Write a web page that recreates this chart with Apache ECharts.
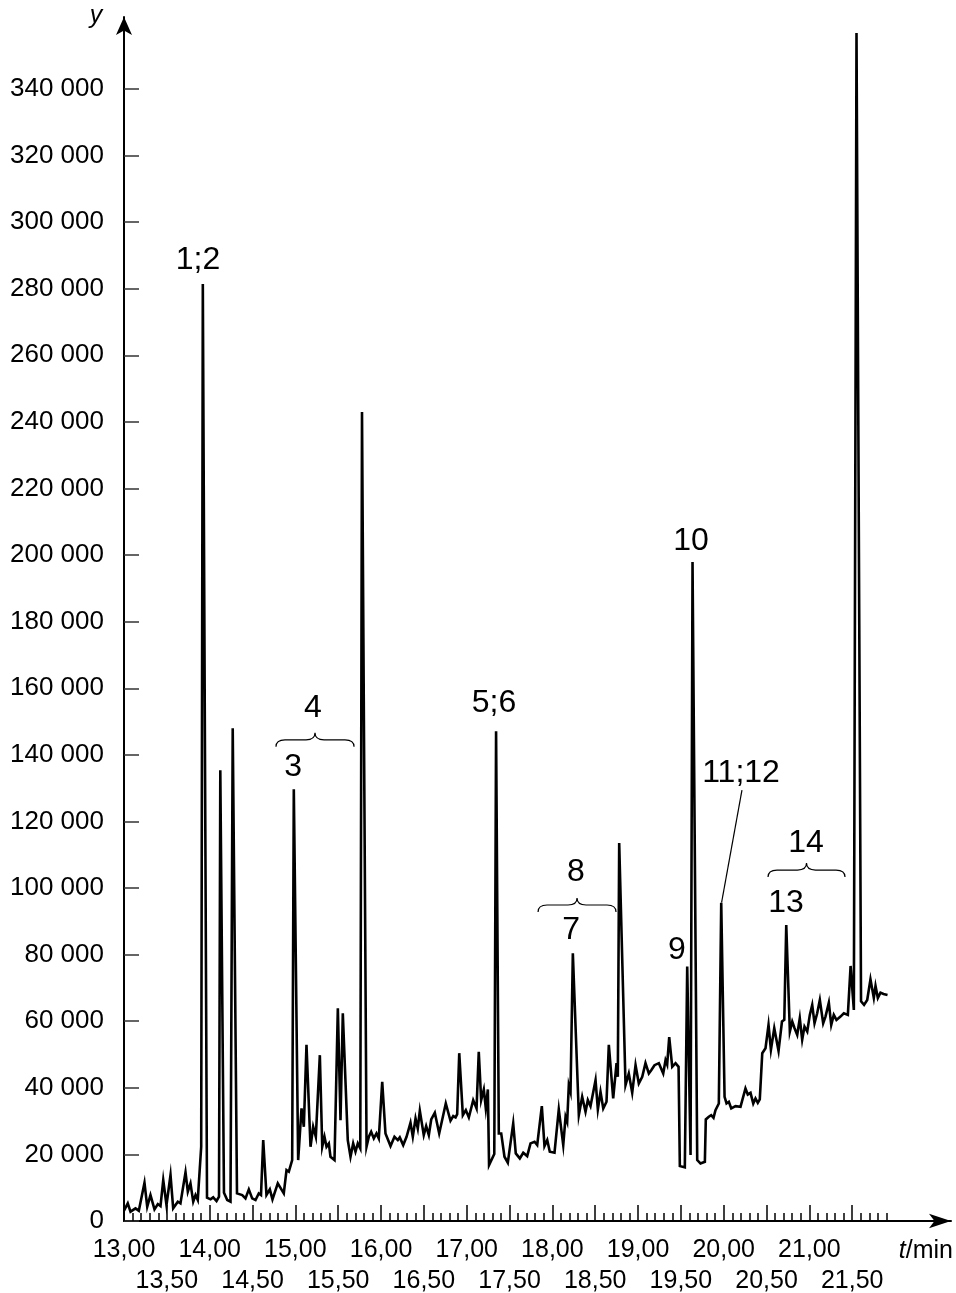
<!DOCTYPE html>
<html><head><meta charset="utf-8">
<script src="https://cdn.jsdelivr.net/npm/echarts@6/dist/echarts.min.js"></script>
<style>html,body{margin:0;padding:0;background:#fff}#c{width:956px;height:1293px}</style>
</head><body><div id="c"></div>
<script>
// retention time (min)
const time = [
13.000,13.044,13.076,13.134,13.173,13.239,13.271,13.309,13.356,13.395,
13.426,13.458,13.496,13.543,13.574,13.628,13.659,13.718,13.745,13.776,
13.808,13.835,13.861,13.901,13.920,13.969,14.010,14.041,14.080,14.109,
14.124,14.167,14.205,14.243,14.269,14.319,14.380,14.418,14.457,14.496,
14.535,14.573,14.599,14.625,14.663,14.702,14.733,14.795,14.865,14.897,
14.924,14.963,14.982,15.033,15.072,15.099,15.130,15.177,15.208,15.239,
15.286,15.314,15.340,15.364,15.391,15.410,15.457,15.496,15.527,15.554,
15.612,15.644,15.675,15.702,15.729,15.758,15.778,15.831,15.858,15.885,
15.916,15.947,15.974,16.014,16.052,16.111,16.157,16.196,16.219,16.259,
16.298,16.313,16.344,16.371,16.403,16.429,16.453,16.499,16.527,16.558,
16.586,16.609,16.628,16.679,16.756,16.811,16.843,16.870,16.889,16.913,
16.955,16.990,17.025,17.076,17.115,17.141,17.169,17.200,17.223,17.247,
17.261,17.322,17.343,17.375,17.403,17.441,17.480,17.543,17.573,17.620,
17.660,17.706,17.745,17.792,17.823,17.877,17.908,17.940,17.970,18.025,
18.075,18.127,18.154,18.173,18.192,18.212,18.239,18.309,18.348,18.387,
18.414,18.445,18.504,18.531,18.562,18.594,18.632,18.659,18.710,18.749,
18.764,18.780,18.854,18.892,18.932,18.971,19.009,19.049,19.087,19.126,
19.154,19.192,19.243,19.294,19.321,19.340,19.364,19.399,19.438,19.473,
19.488,19.546,19.574,19.613,19.636,19.691,19.729,19.780,19.791,19.826,
19.854,19.881,19.904,19.943,19.971,20.010,20.033,20.060,20.088,20.138,
20.196,20.254,20.281,20.313,20.345,20.371,20.398,20.421,20.450,20.488,
20.505,20.523,20.551,20.590,20.640,20.680,20.707,20.730,20.772,20.800,
20.827,20.858,20.888,20.916,20.943,20.975,21.005,21.033,21.060,21.091,
21.122,21.161,21.188,21.227,21.255,21.285,21.316,21.363,21.402,21.449,
21.481,21.519,21.550,21.603,21.638,21.675,21.713,21.752,21.772,21.799,
21.830,21.865,21.912
];
// detector signal (y)
const signal = [
3100,5300,2800,3800,3100,11500,4300,7800,3500,5100,
4500,12300,4800,13800,3800,5800,5300,14600,8800,11300,
5800,7800,6300,22300,281400,7000,6500,7100,6000,7300,
135400,8500,6300,5800,148000,8300,7800,6800,9500,6800,
6300,8300,7800,24300,7800,9500,6500,11300,8300,15300,
14800,18300,129700,18300,33800,28300,52900,22300,28300,25300,
49800,22300,25300,22300,23300,19300,18300,63900,30300,62400,
24300,19300,23300,20800,23300,21800,243000,22300,25300,26800,
24800,26300,24800,41800,26300,22500,25300,24300,25100,22800,
25300,24800,29500,25300,30800,27800,33100,25800,28500,25800,
30500,30000,32500,26300,35300,30100,31500,31100,32100,50400,
31800,33300,31100,36300,33800,50800,36300,39500,33800,39500,
16800,20100,147100,26300,26300,19300,17500,29300,20300,18800,
20500,19500,23300,23800,22800,34500,22500,24300,20800,20500,
33500,22800,31300,29800,40800,38800,80400,31800,37300,32800,
36300,34500,42300,33500,38800,33800,35800,52900,36800,47400,
43300,113500,40800,44300,38500,46800,41300,43300,47400,44300,
45300,46800,47400,44300,48300,47000,55200,46300,47400,46300,
16500,16100,76400,19800,197900,18300,17300,17800,30500,31300,
31800,31000,33300,35300,95600,37300,35300,35800,33800,34500,
34300,39800,38000,38500,35300,36800,35500,36500,50400,51900,
51400,58900,51400,57900,51100,59900,60400,88900,56900,59900,
57900,55900,60900,54400,58400,56900,61900,64900,59400,62400,
66400,59400,61400,65600,58900,61900,60400,61400,62400,61900,
76600,63400,356800,66000,64900,66400,72600,67000,70600,67000,
68600,68200,67900
];
if (time.length !== signal.length) throw new Error('length mismatch ' + time.length + ' ' + signal.length);

const xMajorTicks = [13,13.5,14,14.5,15,15.5,16,16.5,17,17.5,18,18.5,19,19.5,20,20.5,21,21.5];
const xLabelsRow1 = [13,14,15,16,17,18,19,20,21];
const xLabelsRow2 = [13.5,14.5,15.5,16.5,17.5,18.5,19.5,20.5,21.5];
const yTicks = [0,20000,40000,60000,80000,100000,120000,140000,160000,180000,200000,220000,240000,260000,280000,300000,320000,340000];

// peak labels: [t, y, text]
const peakLabels = [
  [13.864, 288600, '1;2'],
  [14.973, 136300, '3'],
  [15.206, 154100, '4'],
  [17.319, 155600, '5;6'],
  [18.218, 87400, '7'],
  [18.276, 104800, '8'],
  [19.455, 81400, '9'],
  [19.618, 204200, '10'],
  [20.202, 134500, '11;12'],
  [20.727, 95500, '13'],
  [20.961, 113500, '14']
];
// braces: [tStart, tEnd, y]
const braces = [
  [14.774, 15.685, 144500],
  [17.833, 18.743, 94900],
  [20.517, 21.416, 105400]
];
// leader line for 11;12: [t1, y1, t2, y2]
const leaders = [[20.213, 129400, 19.975, 95600]];

const minorTicks = [];
for (let k = 131; k <= 219; k++) { if (k % 5 !== 0) minorTicks.push(k / 10); }

const FONT = 'Liberation Sans, Arial, sans-serif';
const fmtX = v => v.toFixed(2).replace('.', ',');
const fmtY = v => String(v).replace(/\B(?=(\d{3})+(?!\d))/g, ' ');

const chart = echarts.init(document.getElementById('c'), null, {renderer: 'canvas'});
const commonX = {type: 'value', min: 13, max: 22.653, splitLine: {show: false}, gridIndex: 0, position: 'bottom', offset: 0};
chart.setOption({
  animation: false,
  backgroundColor: '#fff',
  grid: {left: 124, right: 5, top: 17, bottom: 72, containLabel: false, outerBoundsMode: 'none'},
  xAxis: [
    Object.assign({}, commonX, {
      axisLine: {show: true, symbol: ['none', 'arrow'], symbolSize: [11, 22], lineStyle: {color: '#000', width: 2}},
      axisTick: {show: true, inside: true, length: 16, customValues: xMajorTicks, lineStyle: {color: '#000', width: 1.5}},
      axisLabel: {customValues: xLabelsRow1, formatter: fmtX, margin: 17, fontSize: 25, color: '#000', fontFamily: FONT}
    }),
    Object.assign({}, commonX, {
      axisLine: {show: false},
      axisTick: {show: true, inside: true, length: 8, customValues: minorTicks, lineStyle: {color: '#000', width: 1.5}},
      axisLabel: {customValues: xLabelsRow2, formatter: fmtX, margin: 48, fontSize: 25, color: '#000', fontFamily: FONT}
    })
  ],
  yAxis: {
    type: 'value', min: 0, max: 361600, splitLine: {show: false},
    axisLine: {show: true, symbol: ['none', 'arrow'], symbolSize: [12, 18], lineStyle: {color: '#000', width: 2}},
    axisTick: {show: true, inside: true, length: 15, customValues: yTicks, lineStyle: {color: '#333', width: 1.5}},
    axisLabel: {customValues: yTicks, formatter: fmtY, margin: 20, fontSize: 26, color: '#000', fontFamily: FONT}
  },
  graphic: [
    {type: 'text', x: 96, y: 16, style: {text: 'y', fontSize: 25, fontStyle: 'italic', fontFamily: FONT, fill: '#000', align: 'center', verticalAlign: 'middle'}},
    {type: 'text', x: 953, y: 1251, style: {text: '{i|t}/min', fontSize: 25, fontFamily: FONT, fill: '#000', align: 'right', verticalAlign: 'middle',
      rich: {i: {fontStyle: 'italic', fontSize: 25, fontFamily: FONT, fill: '#000'}}}}
  ],
  series: [
    {
      type: 'line', xAxisIndex: 0, yAxisIndex: 0, showSymbol: false, symbol: 'none',
      data: time.map((t, i) => [t, signal[i]]),
      lineStyle: {color: '#000', width: 2.6, join: 'miter'},
      z: 3
    },
    {
      type: 'custom', xAxisIndex: 0, yAxisIndex: 0, silent: true, z: 4,
      data: peakLabels.map(d => [d[0], d[1]]),
      renderItem: (params, api) => {
        const p = api.coord([api.value(0), api.value(1)]);
        return {type: 'text', x: p[0], y: p[1], style: {text: peakLabels[params.dataIndex][2], fontSize: 32, fontFamily: FONT, fill: '#000', align: 'center', verticalAlign: 'middle'}};
      }
    },
    {
      type: 'custom', xAxisIndex: 0, yAxisIndex: 0, silent: true, z: 4,
      data: braces.map(d => [d[0], d[2]]),
      renderItem: (params, api) => {
        const b = braces[params.dataIndex];
        const a = api.coord([b[0], b[2]]);
        const e = api.coord([b[1], b[2]]);
        const x0 = a[0], x1 = e[0], y = a[1], xc = (x0 + x1) / 2;
        const d = `M${x0},${y + 7} Q${x0},${y} ${x0 + 9},${y} L${xc - 9},${y} Q${xc},${y} ${xc},${y - 7} Q${xc},${y} ${xc + 9},${y} L${x1 - 9},${y} Q${x1},${y} ${x1},${y + 7}`;
        return {type: 'path', shape: {pathData: d}, style: {fill: 'none', stroke: '#000', lineWidth: 1.2}};
      }
    },
    {
      type: 'custom', xAxisIndex: 0, yAxisIndex: 0, silent: true, z: 4,
      data: leaders.map(d => [d[0], d[1]]),
      renderItem: (params, api) => {
        const l = leaders[params.dataIndex];
        const a = api.coord([l[0], l[1]]);
        const b = api.coord([l[2], l[3]]);
        return {type: 'line', shape: {x1: a[0], y1: a[1], x2: b[0], y2: b[1]}, style: {stroke: '#000', lineWidth: 1.2}};
      }
    }
  ]
});
</script>
</body></html>
